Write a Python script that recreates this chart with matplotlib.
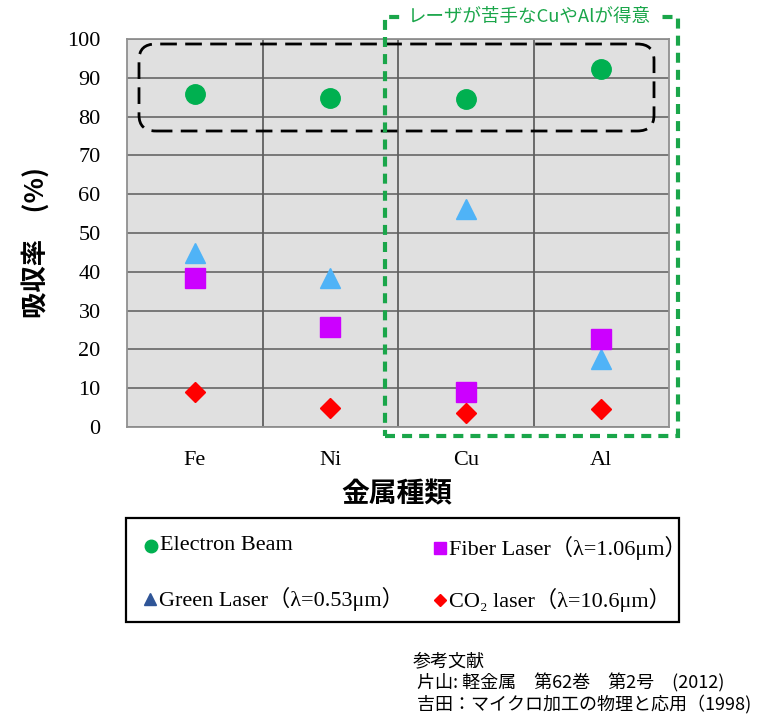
import matplotlib
matplotlib.use("Agg")
import matplotlib.pyplot as plt
from matplotlib.lines import Line2D
from matplotlib.patches import FancyBboxPatch, Rectangle

W, H = 762, 720
metals = ["Fe", "Ni", "Cu", "Al"]
electron = [85.7, 84.7, 84.5, 92.3]
green = [44.8, 38.5, 56.2, 17.5]
fiber = [38.5, 25.9, 9.1, 22.7]
co2 = [9.1, 4.9, 3.7, 4.7]
yticks = list(range(0, 101, 10))

SERIF = ["Liberation Serif", "DejaVu Serif", "Noto Sans CJK JP"]
JP = ["Noto Sans CJK JP", "DejaVu Sans"]

fig = plt.figure(figsize=(W / 100, H / 100), dpi=100)


def fx(px):
    return px / W


def fy(py):
    return 1 - py / H


ax = fig.add_axes([fx(127), fy(427), fx(669) - fx(127), fy(39) - fy(427)])
ax.set_facecolor("#e0e0e0")
xs = range(len(metals))
ax.plot(xs, electron, "o", color="#00b050", ms=14, ls="none", zorder=3)
ax.plot(xs, green, "^", color="#4fb3f7", ms=15, ls="none", zorder=3)
ax.plot(xs, fiber, "s", color="#cc00ff", ms=15, ls="none", zorder=3)
ax.plot(xs, co2, "D", color="#ff0000", ms=10, ls="none", zorder=3)

ax.set_xlim(-0.5, 3.5)
ax.set_ylim(0, 100)
ax.set_yticks(yticks)
ax.set_xticks(list(xs))
ax.set_xticklabels(metals)
for v in yticks:
    ax.axhline(v, color="#707070", lw=1.3, zorder=1)
for v in [0.5, 1.5, 2.5]:
    ax.axvline(v, color="#606060", lw=1.3, zorder=1)
for s in ax.spines.values():
    s.set_color("#909090")
    s.set_linewidth(1.3)
ax.tick_params(length=0)
ax.tick_params(axis="x", pad=17)
ax.tick_params(axis="y", pad=19)
for lab in ax.get_xticklabels() + ax.get_yticklabels():
    lab.set_family(SERIF)
    lab.set_fontsize(16)

fig.text(fx(36), fy(242), "吸収率　(%)", rotation=90, ha="center", va="center",
         fontsize=19, fontweight="bold", family=JP)
fig.text(fx(397), fy(494), "金属種類", ha="center", va="center",
         fontsize=20, fontweight="bold", family=JP)

# black rounded dashed box around the electron beam points
fig.patches.append(FancyBboxPatch((fx(139), fy(131)), fx(654) - fx(139), fy(44) - fy(131),
                                  boxstyle="round,pad=0,rounding_size=0.022",
                                  transform=fig.transFigure, fill=False, ec="black",
                                  lw=2, ls=(0, (6, 3)), zorder=5))
# green dashed box around Cu / Al
fig.patches.append(Rectangle((fx(385), fy(436)), fx(678) - fx(385), fy(17) - fy(436),
                             transform=fig.transFigure, fill=False, ec="#1aa64a",
                             lw=3, ls=(0, (2.4, 1.7)), zorder=5))
fig.text(fx(529), fy(17), "レーザが苦手なCuやAlが得意", ha="center", va="center",
         color="#1aa64a", fontsize=13.3, family=JP, zorder=6,
         bbox=dict(fc="white", ec="none", pad=5))

# legend, laid out by hand in a framed box below the plot
fig.patches.append(Rectangle((fx(126), fy(622)), fx(679) - fx(126), fy(518) - fy(622),
                             transform=fig.transFigure, fill=False, ec="black", lw=1.6))
leg_markers = ["o", "s", "^", "D"]
leg_colors = ["#00b050", "#cc00ff", "#2f5597", "#ff0000"]
leg_sizes = [9, 9, 9, 6.5]
leg_labels = ["Electron Beam", "Fiber Laser（λ=1.06μm）",
              "Green Laser（λ=0.53μm）", "CO₂ laser（λ=10.6μm）"]
leg_pos = [(151, 546), (440, 548), (150, 599), (440, 600)]
for m, c, s, lab, (px, py) in zip(leg_markers, leg_colors, leg_sizes, leg_labels, leg_pos):
    fig.add_artist(Line2D([fx(px)], [fy(py)], marker=m, color=c, ms=s, ls="none",
                          transform=fig.transFigure))
    fig.text(fx(px + 9), fy(py), lab, ha="left", va="center", fontsize=16, family=SERIF)

fig.text(fx(413), fy(683), "参考文献\n 片山: 軽金属　第62巻　第2号　(2012)\n 吉田：マイクロ加工の物理と応用（1998)",
         ha="left", va="center", fontsize=13, family=JP, linespacing=1.15)

fig.savefig("out.png", dpi=100)
